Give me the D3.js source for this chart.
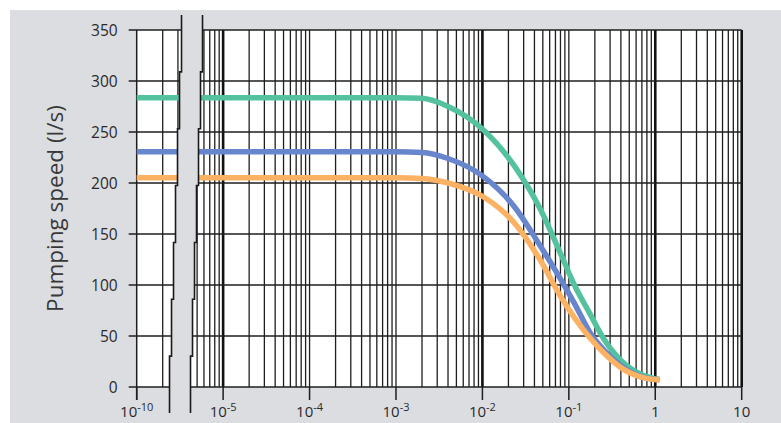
<!DOCTYPE html>
<html>
<head>
<meta charset="utf-8">
<script src="https://cdn.jsdelivr.net/npm/d3@7"></script>
<style>
  body { margin:0; background:#fff; }
  #canvas { width:781px; height:423px; }
  text { font-family:"Open Sans", sans-serif; }
</style>
</head>
<body>
<div id="canvas" class="canvas"></div>
<script>
// --- data (pressure in mbar, speed in l/s)
var pressure = [1e-10, 1e-3, 2e-3, 4e-3, 1e-2, 0.0233, 0.047, 0.08, 0.116, 0.18, 0.25, 0.4, 0.7, 1.12];
var speedGreen  = [283.5, 283.5, 283, 275, 253, 217, 174, 131, 100, 70, 48, 26, 12, 7.5];
var speedBlue   = [230.7, 230.7, 230, 224, 207, 177, 138, 106, 82, 52, 37, 21, 10, 7];
var speedOrange = [205.2, 205.2, 204.5, 200, 187, 161, 124, 89, 68, 47, 34, 19, 9.5, 7];

var yTicks = [0, 50, 100, 150, 200, 250, 300, 350];
var xTickVals = [1e-10, 1e-5, 1e-4, 1e-3, 1e-2, 1e-1, 1, 10];
var xTickBase = ['10', '10', '10', '10', '10', '10', '1', '10'];
var xTickExp  = ['-10', '-5', '-4', '-3', '-2', '-1', '', ''];
var thickLines = [1e-5, 1e-2, 1, 10];

// --- margin convention
var W = 781, H = 423;
var M = {top:30, right:39.3, bottom:36, left:136.7};
var w = W - M.left - M.right,
    h = H - M.top - M.bottom;

var svg = d3.select('.canvas')
  .append('svg')
  .attr('width', W)
  .attr('height', H);

svg.append('rect')
  .attr('x', 10).attr('y', 10)
  .attr('width', W - 10).attr('height', H - 10)
  .attr('fill', '#dcdde1');

var plot = svg.append('g')
  .attr('transform', 'translate(' + M.left + ',' + M.top + ')');

// --- scales: axis is broken between 1e-10 and 1e-5
var decade = w / 7;
var x = d3.scaleLog()
  .domain([1e-10, 1e-5, 10])
  .range([0, decade, w]);
// the left piece is drawn like one decade of a plain log grid
var gx = d3.scaleLog()
  .domain([1e-6, 1e-5])
  .range([0, decade]);

var y = d3.scaleLinear()
  .domain([0, 350])
  .range([h, 0]);

plot.append('rect')
  .attr('width', w).attr('height', h)
  .attr('fill', '#fff');

// --- vertical grid
var gridX = [];
[2,3,4,5,6,7,8,9].forEach(function(k){ gridX.push(gx(k * 1e-6)); });
for (var d = -5; d <= 0; d++) {
  for (var k = 1; k <= 9; k++) gridX.push(x(k * Math.pow(10, d)));
}
gridX.push(x(10));

plot.selectAll('.vgrid')
  .data(gridX)
  .enter().append('line')
  .attr('class', 'vgrid')
  .attr('x1', function(d){ return d; })
  .attr('x2', function(d){ return d; })
  .attr('y1', 0).attr('y2', h)
  .attr('stroke', '#1e1e1e')
  .attr('stroke-width', 1.3);

plot.selectAll('.thick')
  .data(thickLines)
  .enter().append('line')
  .attr('x1', function(d){ return x(d); })
  .attr('x2', function(d){ return x(d); })
  .attr('y1', 0).attr('y2', h)
  .attr('stroke', '#111')
  .attr('stroke-width', 2.6);

// left edge
plot.append('line')
  .attr('x1', 0).attr('x2', 0)
  .attr('y1', 0).attr('y2', h + 13)
  .attr('stroke', '#1e1e1e').attr('stroke-width', 1.5);

// --- horizontal grid + y ticks
plot.selectAll('.hgrid')
  .data(yTicks)
  .enter().append('line')
  .attr('x1', -8).attr('x2', w)
  .attr('y1', function(d){ return y(d); })
  .attr('y2', function(d){ return y(d); })
  .attr('stroke', '#1e1e1e')
  .attr('stroke-width', function(d){ return d == 0 ? 1.6 : 1.3; });

plot.selectAll('.ylab')
  .data(yTicks)
  .enter().append('text')
  .attr('x', -19)
  .attr('y', function(d){ return y(d); })
  .attr('dy', '0.36em')
  .attr('text-anchor', 'end')
  .attr('font-size', 15.5)
  .attr('fill', '#2a2a2a')
  .text(function(d){ return d; });

// --- x ticks
var xt = plot.selectAll('.xtick')
  .data(xTickVals)
  .enter().append('g')
  .attr('transform', function(d){ return 'translate(' + x(d) + ',0)'; });

xt.append('line')
  .attr('y1', h).attr('y2', h + 13)
  .attr('stroke', '#1e1e1e')
  .attr('stroke-width', 1.5);

var xl = xt.append('text')
  .attr('y', h + 30)
  .attr('text-anchor', 'middle')
  .attr('fill', '#2a2a2a')
  .attr('font-size', 15);
xl.append('tspan').text(function(d, i){ return xTickBase[i]; });
xl.append('tspan')
  .attr('dy', -6)
  .attr('font-size', 11)
  .text(function(d, i){ return xTickExp[i]; });

// --- curves
var line = d3.line()
  .x(function(d){ return x(d[0]); })
  .y(function(d){ return y(d[1]); })
  .curve(d3.curveMonotoneX);

var series = [
  {v: speedGreen,  c: '#55c29f'},
  {v: speedBlue,   c: '#6886ce'},
  {v: speedOrange, c: '#fcb262'}
];
series.forEach(function(s){
  plot.append('path')
    .attr('d', line(d3.zip(pressure, s.v)))
    .attr('fill', 'none')
    .attr('stroke', s.c)
    .attr('stroke-width', 5.5);
});

// --- axis break (jagged band)
var bTop = -15, bBot = h + 26;
var bLeft = gx(3.3e-6), bShift = 14, bWidth = 21, steps = 7;
function edge(x0) {
  var pts = [];
  for (var i = 0; i < steps; i++) {
    var xx = x0 - bShift * i / steps;
    pts.push([xx, bTop + (bBot - bTop) * i / steps]);
    pts.push([xx, bTop + (bBot - bTop) * (i + 1) / steps]);
  }
  return pts;
}
var le = edge(bLeft), re = edge(bLeft + bWidth);
plot.append('path')
  .attr('d', d3.line()(le.concat(re.slice().reverse())) + 'Z')
  .attr('fill', '#dcdde1');
[le, re].forEach(function(e){
  plot.append('path')
    .attr('d', d3.line()(e))
    .attr('fill', 'none')
    .attr('stroke', '#1a1a1a')
    .attr('stroke-width', 1.6);
});

// --- y title
svg.append('text')
  .attr('transform', 'translate(63,' + (M.top + h / 2) + ') rotate(-90)')
  .attr('text-anchor', 'middle')
  .attr('font-size', 22.5)
  .attr('fill', '#383838')
  .text('Pumping speed (l/s)');
</script>
</body>
</html>
